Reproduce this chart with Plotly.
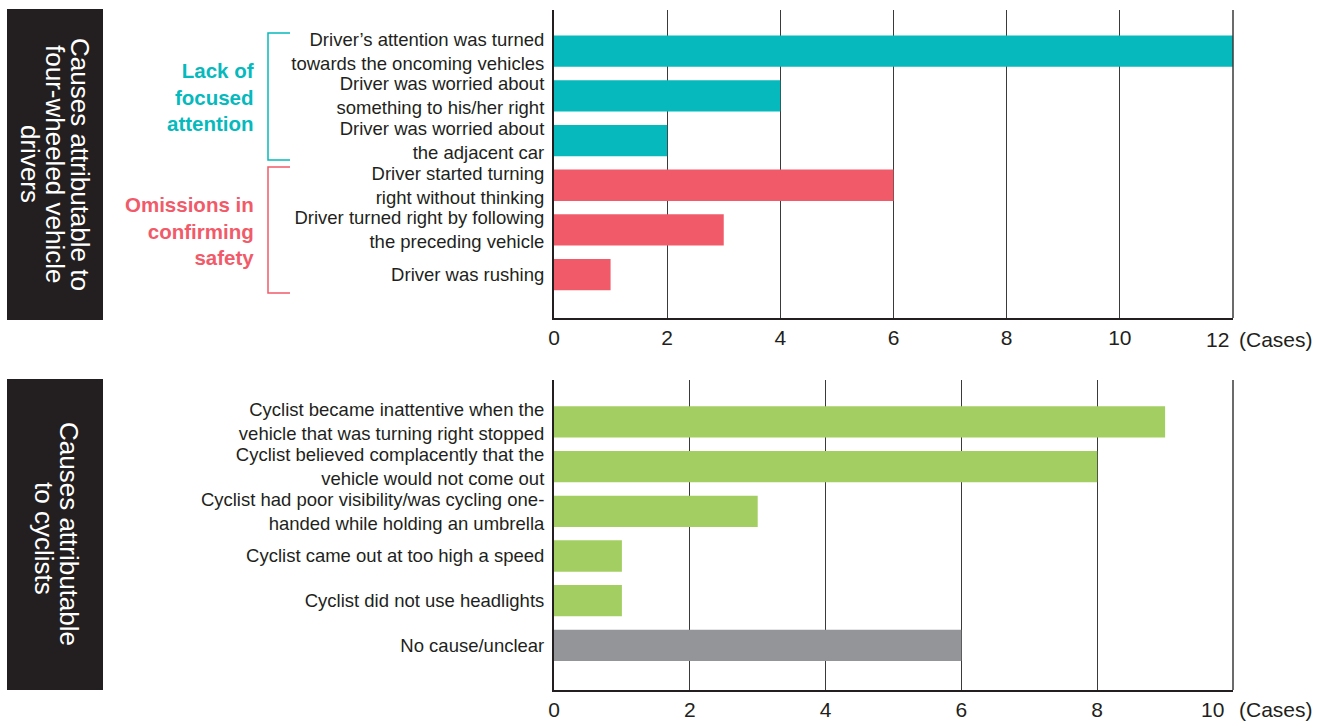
import plotly.graph_objects as go

W, H = 1322, 721

# ---------------- data ----------------
driver_causes = [
    "Driver’s attention was turned<br>towards the oncoming vehicles",
    "Driver was worried about<br>something to his/her right",
    "Driver was worried about<br>the adjacent car",
    "Driver started turning<br>right without thinking",
    "Driver turned right by following<br>the preceding vehicle",
    "Driver was rushing",
]
driver_cases = [12, 4, 2, 6, 3, 1]
driver_groups = ["Lack of focused", "Lack of focused", "Lack of focused",
                 "Omissions", "Omissions", "Omissions"]

cyclist_causes = [
    "Cyclist became inattentive when the<br>vehicle that was turning right stopped",
    "Cyclist believed complacently that the<br>vehicle would not come out",
    "Cyclist had poor visibility/was cycling one-<br>handed while holding an umbrella",
    "Cyclist came out at too high a speed",
    "Cyclist did not use headlights",
    "No cause/unclear",
]
cyclist_cases = [9, 8, 3, 1, 1, 6]
cyclist_groups = ["Cyclist", "Cyclist", "Cyclist", "Cyclist", "Cyclist", "Unclear"]

top_ticks = [0, 2, 4, 6, 8, 10, 12]
bottom_ticks = [0, 2, 4, 6, 8, 10]
unit_label = "(Cases)"

group_titles = ["Lack of<br>focused<br>attention", "Omissions in<br>confirming<br>safety"]
box_titles_top = ["Causes attributable to", "four-wheeled vehicle", "drivers"]
box_titles_bottom = ["Causes attributable", "to cyclists"]

# ---------------- styles ----------------
TEAL = "#06B9BD"
RED = "#F15B69"
GREEN = "#A3CF62"
GRAY = "#939598"
DARK = "#231F20"
FONT = "Liberation Sans, Arial, sans-serif"

color_map = {"Lack of focused": TEAL, "Omissions": RED, "Cyclist": GREEN, "Unclear": GRAY}


def px(x):
    return x / W


def py(y):
    return 1 - y / H


fig = go.Figure()
fig.add_trace(go.Bar(
    x=driver_cases, y=driver_causes, orientation="h",
    marker=dict(color=[color_map[g] for g in driver_groups], line=dict(width=0)),
    width=0.7, xaxis="x", yaxis="y", hoverinfo="x+y", showlegend=False,
))
fig.add_trace(go.Bar(
    x=cyclist_cases, y=cyclist_causes, orientation="h",
    marker=dict(color=[color_map[g] for g in cyclist_groups], line=dict(width=0)),
    width=0.7, xaxis="x2", yaxis="y2", hoverinfo="x+y", showlegend=False,
))

xdom = [px(554), px(1233)]
common_x = dict(
    domain=xdom, showgrid=True, gridcolor="#3a3a3a", gridwidth=1,
    showline=True, linecolor=DARK, linewidth=2, ticks="", zeroline=False,
    tickfont=dict(family=FONT, size=21, color=DARK), automargin=False,
    fixedrange=True, ticklabelstandoff=0,
)
common_y = dict(
    type="category", categoryorder="array", showgrid=False, showline=True,
    linecolor=DARK, linewidth=2, ticks="", zeroline=False,
    tickfont=dict(family=FONT, size=18.5, color=DARK), automargin=False,
    fixedrange=True, ticklabelstandoff=4,
)

fig.update_layout(
    width=W, height=H, margin=dict(l=0, r=0, t=0, b=0),
    paper_bgcolor="white", plot_bgcolor="white", template="none",
    bargap=0.3,
    xaxis=dict(common_x, anchor="y", range=[0, top_ticks[-1]], tickvals=top_ticks,
               ticktext=[str(t) for t in top_ticks[:-1]] + [""]),
    yaxis=dict(common_y, domain=[py(318), py(10)], anchor="x",
               categoryarray=driver_causes, range=[5.97, -0.92]),
    xaxis2=dict(common_x, anchor="y2", range=[0, bottom_ticks[-1]], tickvals=bottom_ticks,
                ticktext=[str(t) for t in bottom_ticks[:-1]] + [""]),
    yaxis2=dict(common_y, domain=[py(690), py(380)], anchor="x2",
                categoryarray=cyclist_causes, range=[6.0, -0.94]),
)

shapes = []
annotations = []

# right edge lines
for xr, yr in [("x domain", "y domain"), ("x2 domain", "y2 domain")]:
    shapes.append(dict(type="line", xref=xr, yref=yr, x0=1, x1=1, y0=0, y1=1,
                       line=dict(color="#3a3a3a", width=1.5)))

# last tick + unit labels
annotations.append(dict(text=str(top_ticks[-1]), x=px(1217), y=py(339), xref="paper", yref="paper",
                        xanchor="center", yanchor="middle", showarrow=False,
                        font=dict(family=FONT, size=21, color=DARK)))
annotations.append(dict(text=unit_label, x=px(1237), y=py(339), xref="paper", yref="paper",
                        xanchor="left", yanchor="middle", showarrow=False,
                        font=dict(family=FONT, size=21, color=DARK)))
annotations.append(dict(text=str(bottom_ticks[-1]), x=px(1212), y=py(709), xref="paper", yref="paper",
                        xanchor="center", yanchor="middle", showarrow=False,
                        font=dict(family=FONT, size=21, color=DARK)))
annotations.append(dict(text=unit_label, x=px(1237), y=py(709), xref="paper", yref="paper",
                        xanchor="left", yanchor="middle", showarrow=False,
                        font=dict(family=FONT, size=21, color=DARK)))

# brackets
for (y0, y1, col) in [(33, 160, TEAL), (167, 293, RED)]:
    path = f"M {px(290)} {py(y0)} L {px(268)} {py(y0)} L {px(268)} {py(y1)} L {px(290)} {py(y1)}"
    shapes.append(dict(type="path", xref="paper", yref="paper", path=path,
                       line=dict(color=col, width=1.5)))

# group titles
for title, yc, col in [(group_titles[0], 97, TEAL), (group_titles[1], 231, RED)]:
    annotations.append(dict(text=f"<b>{title}</b>", x=px(256), y=py(yc), xref="paper", yref="paper",
                            xanchor="right", yanchor="middle", align="right", showarrow=False,
                            font=dict(family=FONT, size=20.5, color=col)))

# black boxes
for (y0, y1) in [(9, 320), (379, 690)]:
    shapes.append(dict(type="rect", xref="paper", yref="paper", x0=px(7), x1=px(103),
                       y0=py(y1), y1=py(y0), fillcolor=DARK, line=dict(width=0), layer="below"))

for txt, xc, yc in zip(box_titles_top, [80, 55, 30], [164, 164, 164]):
    annotations.append(dict(text=txt, x=px(xc), y=py(yc), xref="paper", yref="paper",
                            xanchor="center", yanchor="middle", textangle=90, showarrow=False,
                            font=dict(family=FONT, size=26, color="white")))
for txt, xc, yc in zip(box_titles_bottom, [69, 44], [534, 538]):
    annotations.append(dict(text=txt, x=px(xc), y=py(yc), xref="paper", yref="paper",
                            xanchor="center", yanchor="middle", textangle=90, showarrow=False,
                            font=dict(family=FONT, size=26, color="white")))

fig.update_layout(shapes=shapes, annotations=annotations)
fig.write_html("out.html")
